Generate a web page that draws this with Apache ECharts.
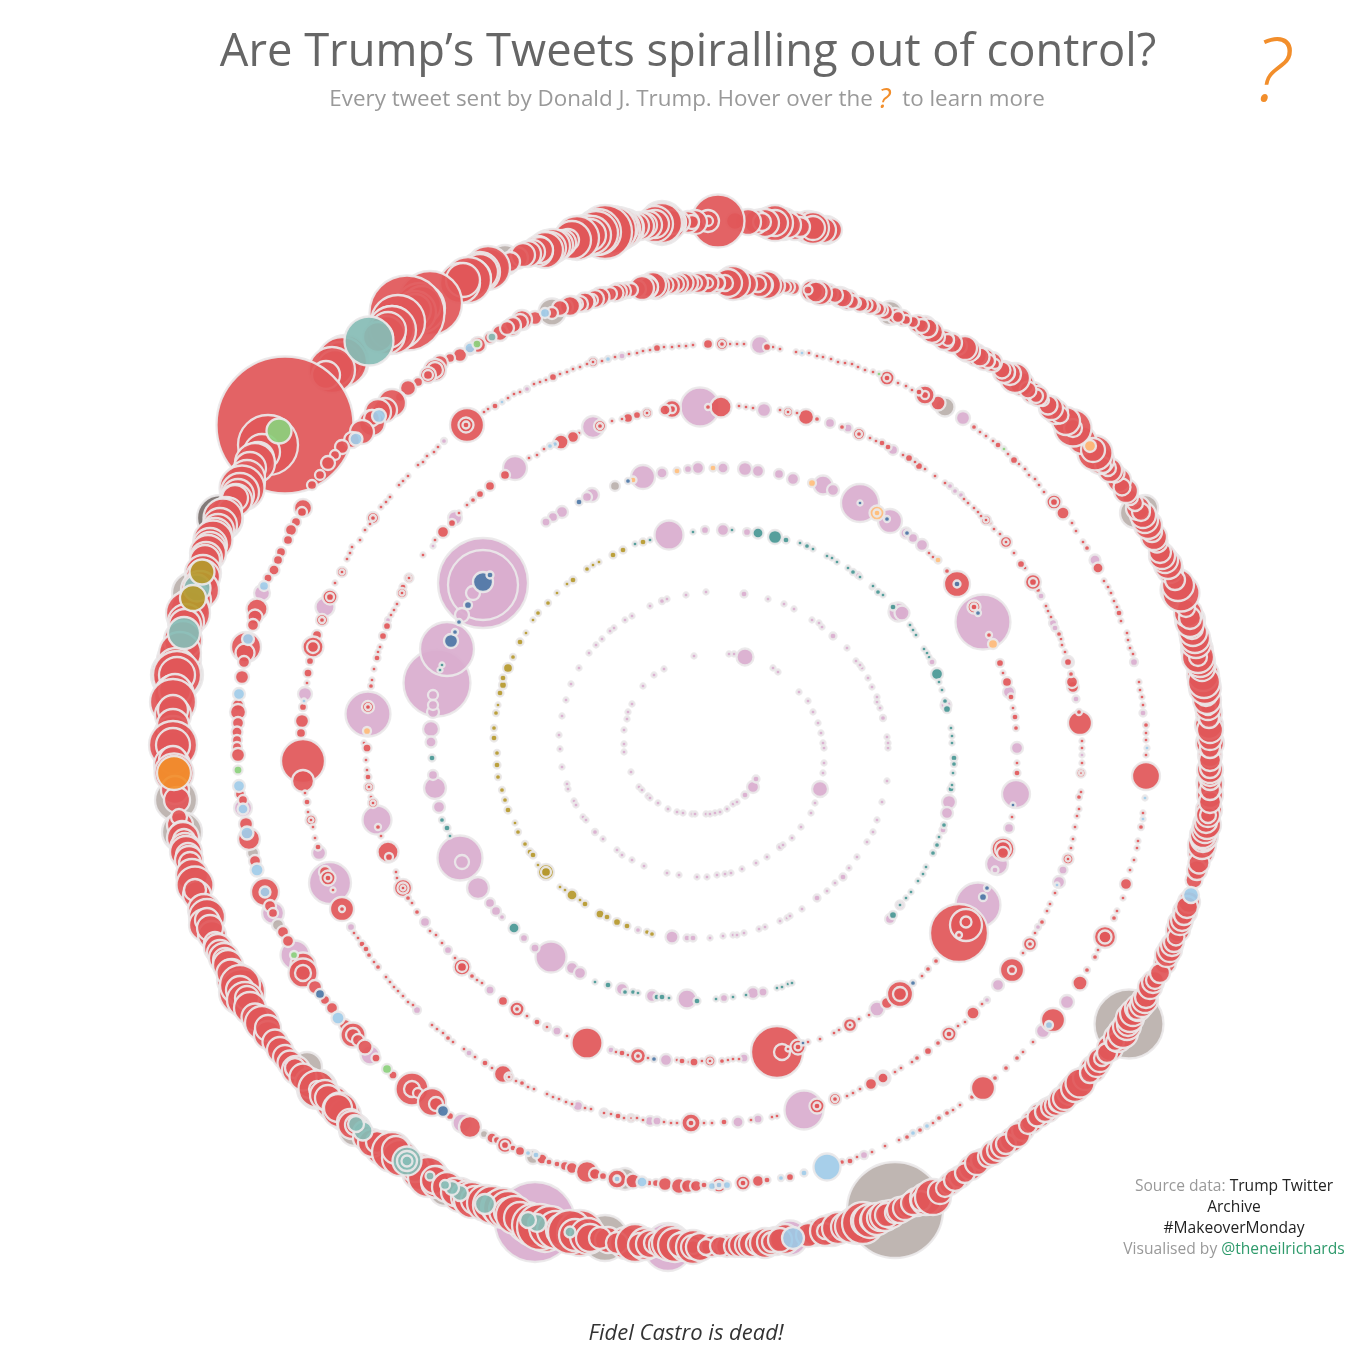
<!DOCTYPE html>
<html><head><meta charset="utf-8">
<script src="https://cdn.jsdelivr.net/npm/echarts@6/dist/echarts.min.js"></script>
<style>html,body{margin:0;background:#fff}#c{width:1360px;height:1360px}</style></head>
<body><div id="c"></div>
<script>
// Each mark: [x, y, size]. Red marks are listed along the spiral from its outer end inwards.
const red=[
[823,230,24],[813,228,30],[813,228,22],[800,227,18],[788,225,24],[775,223,34],[775,223,24],[762,222,16],[748,222,24],[735,221,16],[718,221,51],[708,221,20],[708,221,8],[692,222,12],[680,222,18],[672,222,22],[662,223,38],[655,224,26],[645,225,22],[636,226,24],[627,227,30],[620,228,34],[605,232,52],[596,233,42],[590,235,30],[577,238,42],[568,240,20],[558,245,28],[550,248,30],[545,250,34],[540,250,24],[533,252,22],[523,255,22],[510,262,18],[488,268,42],[480,272,34],[468,280,44],[463,280,32],[430,303,62],[422,305,36],[415,310,30],[407,313,73],[392,330,46],[388,330,34],[378,337,28],[352,365,30],[342,362,48],[332,370,44],[326,375,26],
[285,425,135],[268,445,58],[262,452,34],[258,458,30],[255,463,38],[250,468,30],[247,478,34],[242,488,43],[238,495,30],[235,498,24],[230,510,22],[223,518,37],[218,530,30],[213,540,37],[210,548,30],[208,553,34],[205,560,28],[203,573,34],[203,577,32],
[195,600,30],[188,613,42],[185,625,30],[180,653,40],[177,675,46],[177,675,34],[175,690,30],[173,702,44],[173,710,28],[173,725,30],[173,745,46],[173,745,32],[173,760,26],[174,773,37],[177,800,24],[179,817,14],[182,833,22],[184,840,20],[185,848,28],[188,855,22],[190,863,20],[195,885,35],[195,890,20],[207,917,34],[207,920,22],[210,928,24],[215,943,20],[220,953,24],[225,960,22],[228,965,28],[232,972,24],
[230,973,25],[242,992,44],[240,990,26],[247,998,22],[255,1017,25],[262,1023,32],[268,1028,24],[275,1042,23],[285,1057,22],[290,1063,23],[295,1068,18],[303,1077,25],[317,1089,35],[317,1089,14],[328,1098,24],[340,1110,33],[338,1108,26],[350,1122,24],[355,1125,18],[365,1138,22],[377,1142,20],[392,1152,38],[396,1150,26],[428,1177,38],[435,1180,26],[447,1187,28],[455,1192,26],[467,1197,30],[475,1200,26],[485,1203,34],[497,1207,30],[508,1210,36],[508,1212,26],[520,1218,30],[540,1227,44],[550,1227,40],[562,1230,30],[580,1233,44],[575,1235,30],[590,1238,26],
[600,1238,20],[617,1243,20],[635,1243,36],[640,1245,22],[655,1243,20],[662,1245,24],[670,1243,34],[680,1245,22],[693,1247,32],[693,1247,22],[693,1247,12],[706,1247,14],[720,1246,18],[735,1246,20],[747,1245,22],[756,1244,18],[765,1243,28],[772,1242,18],[780,1240,22],[808,1235,22],[825,1231,28],[825,1231,14],[845,1227,26],[852,1226,32],[863,1223,40],[866,1221,28],[872,1220,22],[880,1218,24],[887,1215,22],[895,1213,18],[905,1208,22],[913,1203,22],[921,1201,18],[933,1197,34],[945,1188,16],[955,1180,20],[965,1173,18],[977,1163,22],[988,1157,18],[998,1150,20],[1006,1144,18],[1018,1135,22],[1028,1125,16],[1037,1117,17],[1045,1112,18],[1052,1107,20],[1058,1103,16],[1065,1098,22],[1080,1083,27],[1090,1073,18],[1097,1065,22],[1102,1058,14],[1107,1053,18],[1115,1042,16],[1123,1033,28],[1128,1025,20],[1133,1013,24],[1137,1010,18],[1142,1005,22],[1146,997,20],[1150,987,22],[1155,980,16],[1160,973,18],
[1170,950,22],[1174,942,18],[1176,937,15],[1182,920,20],[1184,915,18],[1187,907,20],[1194,880,15],[1199,863,19],[1203,840,22],[1203,835,24],[1205,830,24],[1206,822,20],[1208,815,22],[1208,815,14],[1210,790,18],[1210,780,18],[1210,775,20],[1210,768,18],[1210,760,20],[1210,748,18],[1210,738,22],[1210,730,24],[1209,718,18],[1208,707,24],[1208,707,14],[1206,695,20],[1204,682,30],[1202,668,24],[1198,657,30],[1198,657,16],[1195,638,28],[1192,628,20],[1190,618,20],[1186,608,16],[1181,593,35],[1175,580,18],[1165,560,24],[1160,552,20],[1157,542,19],[1152,532,18],[1145,520,24],[1141,512,16],[1135,503,14],[1130,497,14],[1122,487,15],[1115,473,17],[1108,468,14],[1103,465,14],[1095,453,33],[1093,450,22],[1073,428,35],[1073,428,16],[1060,415,15],[1048,405,17],[1043,400,10],[1036,396,12],[1028,390,15],[1015,378,28],[1007,372,14],[1002,370,15],[995,364,8],[988,361,12],[980,357,17],[972,352,14],[965,348,22],
[948,340,10],[937,337,14],[928,328,17],[922,326,12],[913,322,10],[906,320,8],[898,317,10],[882,310,10],[875,308,8],[866,305,11],[856,303,8],[852,302,12],[843,298,17],[835,295,14],[816,292,19],[808,290,7],[793,288,12],[785,287,10],[767,285,26],[763,285,18],[758,284,14],[733,283,32],[725,283,14],[718,283,12],[708,283,19],[708,283,8],[695,283,12],[683,283,19],[676,284,14],[665,285,15],[653,285,24],[648,287,18],[642,288,22],[631,290,12],[623,291,14],[615,293,15],[610,294,12],[600,297,17],[592,300,10],[585,302,17],[577,304,10],[570,306,18],[560,308,14],[552,313,10],
[535,318,12],[520,322,14],[513,325,14],[507,328,12],[490,338,10],[478,345,14],[470,350,8],[460,355,12],[450,358,8],[440,363,14],[435,370,14],[428,375,8],[418,382,8],[408,388,14],[400,397,8],[392,403,26],[378,412,24],[372,418,14],[362,432,22],[352,440,14],[342,447,12],[335,455,8],[328,463,12],[320,475,8],[312,485,8],[303,508,16],[302,512,8],[296,522,8],[291,530,10],[288,540,8],[281,552,8],[278,560,8],[274,570,9],[268,578,7],
[257,609,19],[255,617,13],[253,625,10],[246,647,28],[245,653,17],[244,662,10],[242,677,12],[238,705,10],[238,712,14],[238,723,10],[237,732,9],[237,740,8],[237,747,8],[238,755,12],[240,794,8],[243,800,8],[246,824,12],[249,839,20],[255,861,10],[265,892,26],[270,906,10],[273,913,8],[283,932,10],[288,941,10],[303,965,23],[303,973,27],[303,973,14],[315,987,12],[325,1000,8],[332,1008,10],[345,1025,10],[353,1035,23],[353,1035,12],[358,1040,10],[365,1047,13],[376,1058,7],[393,1075,7],[412,1089,31],[412,1089,14],[418,1093,8],[432,1102,26],[436,1104,12],[450,1116,6],[470,1127,20],[492,1138,9],[497,1140,6],[505,1145,14],[505,1145,6],[513,1148,5],[520,1151,8],[542,1159,9],[549,1162,5],[557,1164,5],[565,1166,8],[572,1168,10],[587,1172,20],[595,1174,10],[603,1176,6],[617,1179,17],[633,1181,13],[649,1183,5],[656,1183,6],[665,1184,12],[679,1186,14],[688,1186,12],[696,1186,10],[704,1185,5],[719,1185,13],[719,1185,6],[743,1183,13],[743,1183,5],[758,1181,10],[767,1180,5],[790,1177,6],[842,1162,4],[850,1161,5],[857,1157,3],[872,1152,3],[885,1146,3],[899,1140,3],[907,1137,4],[920,1130,4],[933,1123,3],[939,1118,4],[947,1113,4],[953,1110,3],[960,1105,3],[972,1097,4],[983,1088,22],[995,1078,4],[1006,1068,4],[1017,1058,4],[1023,1052,3],[1033,1042,3],[1053,1020,22],[1080,983,13],[1087,970,4],[1095,957,4],[1098,950,3],[1105,937,20],[1105,937,11],[1114,918,4],[1117,911,3],[1123,898,3],[1126,884,10],[1130,870,3],[1134,860,3],[1137,848,3],[1138,841,3],[1141,827,4],[1143,813,3],[1146,776,26],[1146,755,3],[1146,740,3],[1146,733,3],[1146,725,4],
[1143,705,3],[1142,697,3],[1140,690,3],[1139,682,3],[1133,654,3],[1130,648,3],[1128,640,3],[1127,633,3],[1121,621,3],[1119,613,5],[1117,607,3],[1114,601,3],[1111,593,3],[1108,587,3],[1104,581,3],[1098,568,9],[1087,548,4],[1083,542,3],[1076,531,3],[1072,523,3],[1063,513,11],[1054,502,13],[1054,502,6],[1044,492,3],[1039,485,3],[1035,479,3],[1029,475,3],[1025,469,3],[1019,464,3],[1014,460,6],[1008,454,3],[998,445,5],[993,441,3],[986,436,3],[980,432,3],[974,427,4],[938,403,13],[925,395,17],[925,395,6],[919,392,5],[912,390,3],[906,386,3],[898,383,3],[887,378,13],[887,378,5],[873,372,3],[865,370,3],[858,367,3],[852,364,3],[845,363,3],[838,362,3],[831,359,3],[823,357,3],[817,356,3],[809,353,3],[796,352,3],[780,349,3],[773,347,3],[767,347,6],[744,344,3],[737,344,3],[730,344,3],[722,344,10],[722,344,4],[708,344,8],[693,345,3],[686,346,3],[679,346,3],[672,347,3],[664,347,3],[657,348,6],[650,350,3],[643,351,3],[637,353,3],[629,354,3],[615,357,3],[602,361,3],[593,362,8],[593,362,3],[587,364,3],[580,367,3],[573,369,3],[567,372,3],[560,374,3],[553,377,6],[546,380,3],[540,382,3],[534,384,3],[520,392,3],[514,394,3],[508,398,3],[495,406,5],[488,409,3],[484,412,3],[467,425,32],[466,425,13],[466,425,5],[438,447,3],[434,452,3],[427,456,3],[423,462,3],[418,465,3],[408,476,3],[403,481,3],[399,485,3],[390,497,3],[386,502,3],[381,507,3],[373,518,10],[373,518,4],[370,524,3],[365,530,3],[360,540,3],[352,547,3],[350,553,3],[347,559,3],[342,572,8],[342,572,3],[335,583,3],[330,597,13],[330,597,6],[322,620,10],[322,620,4],[317,635,8],[313,647,19],[313,647,10],[310,661,6],[308,673,7],[307,683,3],[303,707,6],[302,721,12],[301,733,8],[303,761,42],[303,781,20],[305,793,3],[307,802,5],[308,812,3],[311,820,9],[311,820,3],[313,827,3],[315,838,3],[318,847,5],[325,872,10],[328,878,13],[328,878,5],[333,890,3],[342,909,22],[342,909,4],[354,933,3],[358,938,3],[362,944,5],[366,949,5],[369,955,4],[374,962,3],[378,967,4],[386,977,3],[390,982,3],[394,987,3],[398,991,3],[403,996,3],[408,1002,3],[413,1005,3],[432,1025,3],[437,1029,3],[443,1033,3],[448,1038,4],[453,1042,3],[464,1049,3],[475,1057,3],[485,1063,5],[492,1068,3],[503,1074,16],[509,1077,7],[509,1077,3],[516,1081,3],[522,1083,4],[528,1087,3],[534,1089,3],[547,1094,3],[553,1097,3],[559,1099,3],[566,1102,3],[572,1104,3],[585,1108,3],[591,1109,3],[604,1113,3],[611,1114,3],[618,1116,5],[624,1118,3],[631,1118,6],[631,1118,2],[637,1118,3],[643,1120,3],[664,1122,3],[671,1123,3],[677,1123,3],[691,1123,17],[691,1123,5],[704,1123,3],[712,1123,3],[724,1122,5],[751,1120,3],[772,1117,3],[777,1116,3],[817,1106,13],[817,1106,5],[835,1099,10],[835,1099,4],[847,1096,3],[853,1093,3],[860,1089,3],[871,1084,10],[883,1078,9],[895,1072,3],[901,1068,3],[912,1062,3],[917,1058,4],[928,1051,6],[938,1043,4],[949,1034,13],[949,1034,5],[958,1026,3],[965,1022,3],[973,1013,11],[982,1004,3],[1012,970,22],[1012,970,6],[1023,953,3],[1030,944,12],[1030,944,4],[1035,933,3],[1042,922,4],[1047,911,3],[1050,904,3],[1055,893,3],[1068,859,9],[1068,859,3],[1071,848,3],[1073,839,3],[1075,827,3],[1077,816,3],[1079,809,3],[1079,797,4],[1081,792,3],[1081,773,7],[1081,773,2],[1082,763,3],[1082,748,3],[1082,741,3],[1080,723,22],[1079,712,4],[1073,687,10],[1072,682,10],[1071,674,4],[1068,662,6],[1065,652,3],[1062,645,3],[1061,639,3],[1059,634,4],[1051,617,3],[1048,611,3],[1046,606,3],[1038,590,4],[1033,582,14],[1033,582,6],[1025,568,3],[1021,564,6],[1014,553,3],[1006,542,10],[1006,542,3],[1000,534,3],[994,529,3],[990,523,3],[986,520,8],[986,520,3],[981,516,3],[978,512,3],[974,508,3],[968,503,3],[964,499,3],[945,483,3],[935,476,3],[925,469,3],[919,466,6],[915,462,3],[909,458,6],[903,455,3],[888,447,5],[882,443,5],[876,441,3],[870,438,3],[859,434,10],[859,434,4],[842,427,4],[817,419,4],[806,417,14],[797,413,3],[788,412,8],[788,412,3],[780,410,3],[753,408,3],[746,407,3],[739,406,3],[721,407,19],[708,407,4],[672,409,16],[672,409,6],[665,410,9],[647,413,8],[647,413,3],[637,415,6],[628,418,8],[622,419,3],[612,421,3],[600,426,10],[600,426,4],[579,433,3],[573,437,10],[561,442,13],[544,449,3],[537,455,3],[529,458,3],[505,475,8],[490,486,8],[480,494,6],[473,500,4],[467,505,3],[459,513,3],[452,523,6],[443,532,10],[435,540,3],[423,555,3],[409,578,7],[409,578,3],[403,587,5],
[402,593,8],[402,593,3],[397,604,3],[394,610,3],[391,615,3],[387,626,6],[383,636,6],[380,647,3],[378,652,3],[377,658,5],[374,669,3],[372,680,3],[371,686,4],[368,707,10],[368,707,4],[364,743,3],[367,748,7],[366,760,3],[367,770,3],[368,777,5],[369,787,8],[369,787,3],[371,797,3],[373,803,8],[373,803,3],[378,827,4],[381,836,3],[388,852,19],[389,857,6],[396,872,3],[397,878,3],[403,888,16],[403,888,9],[403,888,3],[408,898,4],[412,903,3],[417,912,4],[430,931,3],[436,935,3],[442,943,3],[455,958,3],[462,967,15],[462,967,8],[472,976,4],[477,980,3],[482,983,3],[503,1001,8],[517,1009,13],[517,1009,4],[527,1016,3],[537,1022,5],[547,1027,6],[547,1027,3],[567,1036,3],[587,1043,29],[616,1052,3],[622,1053,5],[628,1055,3],[638,1056,14],[638,1056,4],[648,1058,3],[677,1060,3],[682,1061,5],[689,1062,3],[694,1062,7],[702,1061,3],[710,1061,9],[710,1061,3],[722,1061,4],[728,1060,3],[733,1059,3],[739,1059,3],[777,1052,50],[782,1052,14],[798,1047,13],[798,1047,5],[788,1049,3],[808,1042,3],[820,1039,3],[834,1033,3],[839,1030,3],[850,1025,12],[850,1025,3],[859,1019,3],[869,1015,3],[887,1003,10],[900,994,24],[900,994,12],[922,976,3],[928,969,4],[936,961,4],[959,933,56],[966,925,30],[966,922,9],[959,935,4],[1003,849,21],[1003,849,14],[1003,853,10],[1012,817,3],[1017,773,5],[1017,763,3],[1016,728,4],[1015,717,5],[1013,708,3],[1011,697,5],[1007,682,8],[1003,673,3],[1000,663,6],[989,635,4],[974,607,11],[974,607,5],[957,584,24],[947,571,4],[933,557,3],[929,553,3]
];
// Further overlapping red marks that form the crescents along the thick outer arm
const redRings=[
[830,230,22],[826,230,26],[818,229,26],[808,227,30],[795,226,26],[783,224,30],[770,223,30],[765,223,26],[756,222,22],[695,222,22],[688,222,20],[675,222,20],[668,223,34],[655,224,34],[648,225,26],[640,226,26],[632,227,28],[625,228,36],[618,229,42],[612,230,46],[598,232,44],[592,235,36],[585,236,40],[572,240,36],[563,243,24],[553,246,32],[548,248,34],[538,251,28],[528,254,24],[517,258,20],
[398,322,52],[392,328,42],[386,335,36],[420,308,48],[415,312,40],[460,283,38],[472,278,36],[480,272,38],[490,268,36],[340,363,40],[335,368,34],[345,358,44],
[245,482,38],[240,492,36],[236,500,30],[226,513,30],[220,525,32],[215,535,32],[210,545,32],[206,558,30],[200,590,36],[190,608,36],[186,622,34],[183,640,36],[179,660,42],[176,668,38],[175,680,40],[174,695,38],[173,715,34],[173,735,36],[173,752,38],[172,765,34],[175,790,26],[180,825,24],[183,838,30],[186,852,30],[189,860,26],[192,875,30],[197,895,26],[204,910,30],[205,925,30],[212,935,26],[218,948,26],[224,958,28],[235,980,34],[240,985,38],[245,1000,34],[250,1008,30],[258,1020,28],[268,1035,26],[280,1050,24],[296,1070,26],[310,1083,28],[325,1095,28],[333,1103,32],[345,1115,30],[352,1125,26],[372,1143,26],[382,1148,32],[400,1158,34],[415,1168,26],[420,1172,34],[437,1182,30],[460,1195,32],[472,1200,34],[492,1205,36],[503,1208,38],[515,1215,36],[527,1222,38],[533,1225,40],[545,1230,42],[556,1230,36],[570,1232,42],[588,1236,34],
[608,1240,24],[626,1243,30],[645,1244,30],[650,1244,26],[675,1245,32],[685,1246,28],[700,1247,26],[712,1246,20],[727,1246,20],[741,1245,22],[752,1244,24],[760,1243,24],[770,1242,24],[776,1241,26],[785,1239,28],[815,1233,24],[832,1230,30],[838,1228,30],[857,1225,36],[870,1221,32],[877,1219,30],[885,1216,28],[891,1214,26],[900,1210,24],[909,1206,22],[917,1202,26],[926,1199,30],[940,1192,22],[950,1184,20],[960,1177,20],[971,1168,22],[982,1160,20],[993,1153,22],[1003,1146,22],[1012,1140,22],[1023,1130,20],[1032,1122,20],[1040,1115,22],[1048,1110,22],[1056,1105,20],[1062,1100,24],[1070,1092,24],[1075,1088,26],[1085,1078,22],[1093,1069,24],[1100,1060,22],[1110,1048,24],[1118,1038,26],[1127,1026,26],[1130,1018,26],[1138,1008,24],[1145,1000,24],[1153,982,20],[1165,963,20],[1167,955,22],[1172,945,20],[1178,930,22],[1180,923,22],[1185,912,22],[1189,902,20],
[1197,870,18],[1201,852,24],[1202,845,26],[1204,836,26],[1207,825,26],[1209,810,24],[1210,802,20],[1210,795,24],[1210,785,24],[1210,770,24],[1210,755,22],[1210,743,26],[1209,725,26],[1209,713,24],[1207,700,26],[1205,688,30],[1203,675,30],[1200,662,28],[1197,650,30],[1196,643,28],[1193,632,26],[1190,623,26],[1188,613,26],[1178,585,30],[1170,570,24],[1168,565,26],[1162,556,24],[1154,537,24],[1148,525,26],[1143,515,24],[1138,508,22],[1126,491,22],[1119,480,22],[1110,470,22],[1100,460,26],[1082,440,26],[1066,421,26],[1056,412,22],[1051,408,22],[1038,396,18],[1033,393,20],[1022,384,22],[1010,374,20],[1004,372,20],[992,362,18],[984,359,20],[976,355,20],[968,350,22],[958,346,16],[952,343,18],[944,340,18],[932,332,20],[925,327,20],[918,324,16],[903,318,14],[895,316,14],[885,312,14],[878,309,12],[870,306,14],[860,304,14],[848,300,18],[840,297,18],[828,294,18],[820,293,22],[812,291,20],[788,287,12],[775,286,18],[770,285,24],[760,285,22],[745,284,22],[740,284,28],[728,283,26],[715,283,18],[703,283,20],[698,283,18],[688,283,18],[678,284,18],[670,285,16],[660,285,22],[656,286,24],[646,287,22],[637,289,16],[628,290,14],[618,292,16],[605,295,14],[595,299,16],[587,301,14],[580,304,14],[572,305,16],[565,307,14],
[385,410,22],[372,423,24],[435,370,20],[428,375,14],[522,320,18],[512,327,16],[500,333,14]
];
const pink=[
[762,222,24],[790,1238,33],[668,1247,46],[535,1222,78],[262,593,14],[243,808,16],[273,913,20],[295,955,27],[370,1055,17],[462,1123,17],[578,1106,8],[604,1113,7],[650,1121,8],[657,1121,7],[738,1122,9],[758,1119,7],[804,1110,37],[883,1078,13],[864,1155,6],[1043,1031,12],[1067,1002,12],[998,985,10],[987,1000,4],[1038,927,4],[1059,882,10],[1063,870,7],[1076,699,5],[1082,755,3],[1068,662,10],[1055,628,5],[1053,623,6],[1041,596,5],[961,495,4],[955,491,4],[950,486,4],[963,418,12],[760,345,16],[622,356,5],[527,389,4],[444,441,4],[325,607,17],[305,694,12],[319,853,12],[330,883,40],[351,927,6],[417,1010,6],[469,1053,5],[1134,662,6],[1143,713,5],[1095,560,9],
[893,450,8],[915,462,5],[848,428,7],[830,423,8],[764,410,12],[700,407,37],[593,427,20],[515,468,22],[455,518,12],[433,546,3],[388,620,4],[368,714,43],[377,820,27],[425,922,8],[448,950,6],[490,990,7],[557,1031,7],[611,1050,5],[666,1060,10],[744,1058,7],[877,1009,13],[978,905,43],[995,870,5],[997,864,20],[1009,828,8],[1016,794,26],[1017,748,10],[1009,692,10],[983,622,53],[922,545,10],[913,538,8],[906,533,9],[890,521,22],[860,503,36],[833,490,10],[823,485,17],[793,479,10],[779,474,8],[758,471,10],[745,469,12],[723,468,9],[698,468,10],[688,469,6],[662,473,9],[643,477,22],[592,495,12],[587,497,8],[562,512,10],[553,517,8],[546,522,7],
[483,583,88],[483,585,68],[473,593,12],[462,615,12],[447,649,52],[437,683,65],[433,695,8],[433,705,8],[433,712,10],[431,729,14],[431,742,9],[433,775,8],[435,788,20],[439,807,10],[460,858,43],[462,862,12],[478,888,20],[490,903,8],[496,911,8],[502,917,4],[524,938,6],[535,948,7],[551,957,29],[572,968,10],[580,973,10],[622,989,10],[652,996,10],[687,999,17],[724,998,6],[753,993,10],[763,992,7],[900,905,7],[890,919,8],[943,830,5],[947,813,10],[949,802,12],[946,705,9],[932,662,5],[902,613,13],[898,612,17],[669,535,27],[747,532,6],[723,530,10],[705,530,6],[638,930,4],[672,937,11],[687,938,5],[693,938,5],[843,877,5],[817,898,5],
[858,575,4],[710,938,3],[723,936,3],[733,935,3],[737,935,3],[744,933,3],[759,929,3],[765,927,3],[780,921,3],[787,918,3],[790,916,3],[802,909,3],[827,891,3],[835,883,3],[849,868,3],[857,857,3],[867,842,3],[873,832,3],[877,820,3],[882,802,3],[887,781,3],[888,748,3],[888,743,3],[887,737,3],[883,718,4],[880,708,3],[877,702,3],[877,697,3],[872,687,3],[868,678,3],[862,668,3],[860,665,3],[856,661,3],[847,648,3],[833,636,5],[822,627,3],[819,623,3],[812,620,3],[794,609,3],[784,604,3],[768,599,3],[744,594,5],[706,592,3],[686,595,3],[667,599,3],[662,601,4],[650,606,3],[632,616,3],[625,620,3],[614,628,3],[610,631,3],[602,639,3],[596,645,3],[589,653,3],[579,668,3],[571,684,3],[566,700,3],[562,716,3],[559,735,3],[560,749,3],[562,767,3],[567,784,3],[568,789,3],[574,801,3],[576,805,3],[583,817,3],[586,820,3],[595,832,4],[603,839,3],[617,850,3],[622,855,3],[632,860,3],[644,866,3],[667,873,3],[679,875,3],[697,877,3],[707,877,3],[717,875,3],[725,874,3],[731,873,3],[742,869,3],[756,863,3],[767,857,3],[780,847,4],[783,845,3],[792,838,3],[801,827,3],[811,813,3],[815,803,3],[820,789,14],[823,773,3],[824,763,3],[824,748,3],[823,743,3],[821,733,3],[818,723,3],[813,712,3],[808,701,3],[799,692,3],[778,672,3],[773,668,3],[745,657,15],[734,654,3],[729,654,3],[694,656,3],[664,669,3],[654,675,3],[643,686,3],[632,704,3],[628,712,3],[627,719,3],[624,730,3],[624,744,3],[624,752,3],[631,772,3],[639,787,3],[642,790,3],[648,796,3],[650,798,3],[658,803,3],[668,809,3],[677,812,3],[683,813,3],[692,814,3],[695,814,3],[706,814,3],[710,814,3],[715,813,3],[720,812,3],[727,809,3],[733,804,3],[737,802,3],[745,795,5],[753,787,10],[756,779,5]
];
const taupe=[[800,227,24],[662,223,42],[505,260,28],[552,312,25],[890,313,22],[1135,513,28],[1145,508,24],[1178,590,33],[1190,620,28],[1210,782,25],[1129,1024,67],[895,1210,94],[605,1238,44],[193,593,40],[177,675,50],[176,800,40],[182,832,38],[307,1067,28],[355,1130,30],[445,1190,30],[945,407,17],[253,853,10],[278,925,10],[484,1134,6],[533,1157,12],[625,1179,20],[615,486,8]];
const darkGrey=[[220,518,44],[317,1089,38]];
const seafoam=[[369,341,47],[184,633,30],[197,588,25],[363,1131,17],[356,1124,14],[407,1161,27],[407,1161,18],[407,1161,9],[430,1176,7],[445,1185,8],[452,1188,12],[460,1193,14],[485,1204,18],[528,1220,14],[537,1223,16],[570,1232,9],[492,337,7]];
const olive=[[202,572,23],[193,598,24],[643,542,5],[623,550,5],[613,555,5],[599,562,3],[593,565,3],[587,569,4],[573,580,5],[567,584,3],[557,593,3],[548,603,4],[538,613,4],[533,620,3],[526,633,3],[520,642,5],[513,657,4],[508,668,8],[503,678,5],[503,685,6],[500,693,5],[498,705,3],[496,713,4],[494,728,4],[494,738,5],[497,753,4],[497,765,5],[498,777,4],[502,790,4],[505,800,4],[508,810,5],[515,823,3],[518,832,4],[525,844,4],[530,852,5],[533,855,5],[538,865,3],[546,872,14],[546,872,8],[560,887,3],[565,890,3],[572,895,9],[580,900,3],[585,904,5],[600,914,7],[607,917,5],[617,922,6],[627,926,5],[647,932,4],[652,934,4]];
const skyBlue=[[793,1238,20],[827,1167,25],[1191,895,14],[545,313,8],[470,348,9],[379,416,12],[356,439,11],[264,586,8],[248,639,10],[239,694,10],[239,786,10],[243,809,9],[247,833,11],[257,870,11],[265,892,9],[338,1018,11],[528,1153,4],[536,1155,5],[617,1179,5],[642,1182,9],[712,1186,6],[719,1185,5],[727,1185,6],[804,1173,5],[781,1178,4],[1049,1025,6],[1143,819,3],[1145,798,3],[1147,748,3],[913,1133,4],[927,1126,4],[1057,885,3],[555,444,4],[550,446,4],[802,353,3],[608,359,4],[502,402,3],[304,701,3]];
const green=[[279,431,23],[477,344,7],[238,770,7],[294,955,6],[387,1069,8],[1004,449,3],[879,374,3]];
const orange=[[174,773,32]];
const peach=[[1090,446,10],[877,513,13],[877,513,5],[993,644,8],[938,560,5],[812,483,6],[713,468,5],[677,471,5],[633,480,5],[367,731,6]];
const navy=[[483,582,18],[490,575,5],[468,605,6],[459,622,4],[451,641,12],[455,632,4],[443,1111,10],[320,994,8],[913,983,4],[983,897,6],[987,888,4],[654,1059,4],[803,1043,3],[1013,805,3],[978,613,4],[907,533,4],[887,519,4],[860,503,3],[628,481,4],[579,502,5],[957,584,5]];
const darkTeal=[[775,537,12],[758,533,9],[786,540,5],[807,546,4],[872,587,3],[853,572,4],[893,607,5],[878,592,4],[873,586,3],[937,674,10],[947,709,6],[945,701,4],[954,764,4],[954,758,5],[951,789,5],[944,825,4],[937,845,4],[933,853,4],[893,915,6],[514,928,9],[608,985,5],[625,992,4],[633,992,4],[657,997,5],[662,997,5],[697,1001,5],[447,828,5],[442,820,4],[450,836,3],[432,758,5],[442,665,3],[440,670,3]];
const tealDots=[[900,905,3],[906,898,3],[911,892,3],[918,881,3],[923,874,3],[926,867,3],[939,837,3],[952,785,3],[953,773,3],[952,743,3],[952,736,3],[951,728,3],[942,690,3],[939,682,3],[929,657,3],[927,653,3],[924,649,3],[916,635,3],[913,630,3],[910,625,3],[883,595,3],[860,577,3],[848,568,3],[837,562,3],[832,558,3],[827,556,3],[813,549,3],[800,543,3],[732,530,3],[693,532,3],[716,999,3],[733,997,3],[746,995,3],[777,988,3],[782,987,3],[788,984,3],[792,983,3],[669,998,3],[638,993,3],[595,982,3],[650,540,3],[635,544,3]];

// Draw layers: backdrop colours first (largest underneath), red in spiral order, accents on top.
const item=(p,color)=>({value:p,itemStyle:{color}});
const bySize=(a,b)=>b.value[2]-a.value[2];
const backdrop=[...pink.map(p=>item(p,'#D9ADCF')),...taupe.map(p=>item(p,'#BAB0AC')),...darkGrey.map(p=>item(p,'#79706E'))].sort(bySize);
const redOrdered=red.map(p=>[p]);
redRings.forEach(p=>{
  let best=0,bd=1e12;
  red.forEach((q,i)=>{const d=(q[0]-p[0])**2+(q[1]-p[1])**2; if(d<bd){bd=d;best=i;}});
  redOrdered[best].push(p);
});
const redLayer=redOrdered.map(g=>{const [h,...r]=g; return [...r.sort((a,b)=>b[2]-a[2]),h];}).flat().map(p=>item(p,'#E15759'));
const accents=[[seafoam,'#86BCB6'],[olive,'#B6992D'],[skyBlue,'#A0CBE8'],[green,'#8CD17D'],[orange,'#F28E2B'],[peach,'#FFBE7D'],[navy,'#4E79A7'],[darkTeal,'#499894'],[tealDots,'#499894']]
  .flatMap(([l,c])=>l.map(p=>item(p,c))).sort(bySize);
const marks=[...backdrop,...redLayer,...accents];

const chart=echarts.init(document.getElementById('c'),null,{renderer:'canvas'});
const FONT='"Open Sans"';
const richBase={fontFamily:FONT,fontSize:15.6,fontWeight:400,lineHeight:21};
chart.setOption({
 animation:false,backgroundColor:'#fff',
 title:[
  {text:"Are Trump’s Tweets spiralling out of control?",left:683,top:26,textAlign:'center',
   textStyle:{fontFamily:FONT,fontSize:45.3,fontWeight:400,color:'#666'}},
  {text:"Every tweet sent by Donald J. Trump. Hover over the {q|?}  to learn more",left:682,top:81,textAlign:'center',
   textStyle:{fontFamily:FONT,fontSize:22.4,fontWeight:400,color:'#999',rich:{q:{fontFamily:FONT,fontStyle:'italic',fontWeight:400,fontSize:28,color:'#F28E2B'}}}},
  {text:"?",left:1267,top:27,textAlign:'center',textStyle:{fontFamily:FONT,fontStyle:'italic',fontWeight:300,fontSize:88,color:'#F28E2B'}},
  {text:"Fidel Castro is dead!",left:681,top:1318,textAlign:'center',textStyle:{fontFamily:FONT,fontStyle:'italic',fontSize:22,fontWeight:400,color:'#333'}},
  {text:"{g|Source data: }{k|Trump Twitter}\n{k|Archive}\n{k|#MakeoverMonday}\n{g|Visualised by }{t|@theneilrichards}",left:1229,top:1171,textAlign:'center',
   textStyle:{fontFamily:FONT,fontSize:15.6,fontWeight:400,lineHeight:21,rich:{g:{...richBase,color:'#999'},k:{...richBase,color:'#222'},t:{...richBase,color:'#2E9A6B'}}}}
 ],
 grid:{left:0,right:0,top:0,bottom:0},
 xAxis:{type:'value',min:0,max:1360,show:false},
 yAxis:{type:'value',min:0,max:1360,inverse:true,show:false},
 tooltip:{show:false},
 series:[{type:'scatter',data:marks,symbol:'circle',symbolSize:v=>v[2]+2,silent:true,
  itemStyle:{opacity:0.93,borderColor:'#ebe8ea',borderWidth:2.3}}]
});
</script></body></html>
